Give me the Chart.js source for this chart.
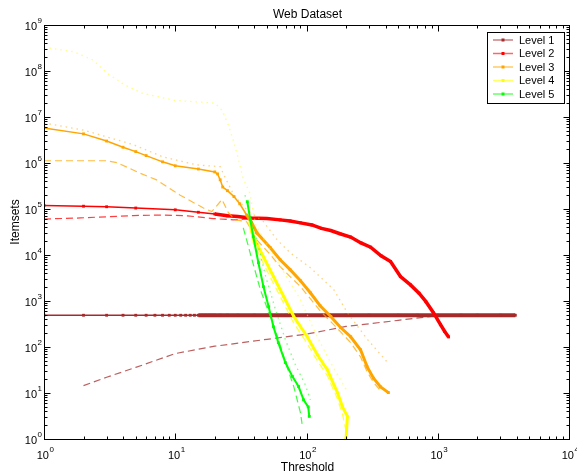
<!DOCTYPE html>
<html>
<head>
<meta charset="utf-8">
<script src="https://cdn.jsdelivr.net/npm/chart.js@4.4.1/dist/chart.umd.min.js"></script>
<style>
  html, body { margin: 0; padding: 0; background: #fff; }
  #wrap { width: 577px; height: 471px; position: relative; }
</style>
</head>
<body>
<div id="wrap"><canvas id="chart"></canvas></div>
<script>
// Web Dataset - itemsets per threshold, log-log, 5 levels
// solid = measured (with markers), dashed = lower bound, dotted = upper bound

const FONT = "'Liberation Sans', Arial, Helvetica, sans-serif";

const xTickExponents = [0, 1, 2, 3, 4];
const yTickExponents = [0, 1, 2, 3, 4, 5, 6, 7, 8, 9];

const levelNames = ["Level 1", "Level 2", "Level 3", "Level 4", "Level 5"];
const levelColors = ["165,42,42", "255,0,0", "255,165,0", "255,255,0", "0,255,0"];

// Level 1
const level1Threshold = [1, 2, 3, 4, 5, 6, 7, 8, 9, 10, 11, 12, 13, 14, 15, 16, 17, 18, 19, 20, 22, 25, 30, 40, 50, 70, 100, 150, 200, 300, 500, 700, 1000, 1500, 2000, 3000, 3900];
const level1Itemsets = [490, 490, 490, 490, 490, 490, 490, 490, 490, 490, 490, 490, 490, 490, 490, 490, 490, 490, 490, 490, 490, 490, 490, 490, 490, 490, 490, 490, 490, 490, 490, 490, 490, 490, 490, 490, 490];
const level1LowerThreshold = [2, 3, 5, 10, 20, 50, 100, 200, 500, 900, 1200];
const level1LowerItemsets = [14.5, 22, 36, 72, 104, 147, 190, 280, 380, 465, 490];

// Level 2
const level2Threshold = [1, 2, 3, 5, 10, 15, 20, 25, 30, 37, 50, 63, 75, 90, 110, 130, 153, 180, 217, 260, 308, 370, 437, 520, 620, 720, 810, 930, 1050, 1130, 1210];
const level2Itemsets = [119000, 115000, 112000, 105000, 96000, 85000, 78000, 71000, 69000, 64000, 62000, 58000, 55000, 50000, 45000, 38000, 34000, 29000, 24500, 18300, 14800, 9600, 7200, 3400, 2240, 1480, 980, 550, 305, 217, 165];
const level2LowerThreshold = [1, 1.9, 4.8, 8.1, 12.4, 19.5, 27.6, 38];
const level2LowerItemsets = [60500, 64000, 72000, 74000, 71000, 62000, 58000, 61000];

// Level 3
const level3Threshold = [1, 2, 3, 4, 5, 6, 8, 10, 15, 20, 21, 22, 23, 25, 28, 31, 35, 38, 42, 53, 63, 75, 90, 107, 127, 153, 182, 217, 258, 290, 324, 367, 421];
const level3Itemsets = [5.8e6, 4.3e6, 3.0e6, 2.2e6, 1.77e6, 1.45e6, 1.06e6, 8.7e5, 7.4e5, 6.4e5, 5.8e5, 4.3e5, 3.0e5, 2.5e5, 1.86e5, 1.3e5, 74000, 52000, 30000, 14400, 7900, 4800, 2750, 1510, 790, 460, 265, 167, 87, 37, 21, 13.6, 10.2];
const level3LowerThreshold = [1, 2, 3, 3.6, 5.4, 7.2, 10.9, 16.4, 19, 22.7, 25.4, 28.7, 35, 42, 53, 63, 75, 90, 107, 127, 153, 182, 217, 258, 290, 324, 367];
const level3LowerItemsets = [1.12e6, 1.12e6, 1.12e6, 1.02e6, 6.0e5, 4.3e5, 2.0e5, 1.05e5, 88000, 1.6e5, 83000, 58000, 53000, 21000, 10200, 5600, 3400, 2050, 1120, 610, 355, 214, 124, 61, 29, 17, 11.2];
const level3UpperThreshold = [1, 2, 4.8, 8.1, 14.6, 22, 24, 28, 35, 47, 60, 75, 107, 161, 205, 292, 415];
const level3UpperItemsets = [7.4e6, 5.2e6, 2.5e6, 1.35e6, 9.1e5, 8.3e5, 4.8e5, 2.0e5, 96000, 53000, 21000, 11200, 5300, 1780, 555, 145, 46];

// Level 4
const level4Threshold = [37, 39.3, 47, 56, 67, 80, 101, 121, 144, 172, 188, 205, 200];
const level4Itemsets = [50000, 25000, 9100, 3400, 1250, 460, 169, 68, 32, 10.2, 5.0, 3.1, 1];
const level4LowerThreshold = [37, 39.3, 47, 56, 67, 80, 101, 121, 144, 172, 188, 200];
const level4LowerItemsets = [40000, 18000, 6500, 2400, 900, 330, 120, 50, 24, 7.5, 3.5, 1.5];
const level4UpperThreshold = [1, 1.7, 2.35, 3.0, 4.1, 5.6, 7.6, 10, 15.6, 20, 22.7, 25.4, 27.6, 30, 32.6, 37, 41, 53, 69, 90, 117, 153, 200];
const level4UpperItemsets = [3.3e8, 2.6e8, 1.74e8, 9.1e7, 5.0e7, 3.3e7, 2.7e7, 2.3e7, 2.1e7, 2.0e7, 1.4e7, 6.7e6, 3.2e6, 1.35e6, 5.0e5, 2.2e5, 45000, 13000, 3700, 1070, 200, 45, 12];

// Level 5
const level5Threshold = [35.4, 37.3, 39.3, 43, 47, 51.5, 56, 61, 69, 78, 87, 95, 103, 105];
const level5Itemsets = [1.44e5, 59000, 25000, 6800, 2050, 750, 275, 124, 46, 23, 13.8, 7.1, 5.0, 3.1];
const level5LowerThreshold = [33, 39, 44.5, 53, 61, 71, 80, 90, 93];
const level5LowerItemsets = [39000, 6800, 1770, 460, 147, 37, 13.8, 3.7, 1.9];
const level5UpperThreshold = [34, 41, 48.5, 58, 69, 82, 98, 107];
const level5UpperItemsets = [2.0e5, 27000, 3700, 650, 145, 42, 15, 7.1];

const pts = (xs, ys) => xs.map((x, i) => ({ x: x, y: ys[i] }));

function solid(level, xs, ys, thickFrom, thickWidth) {
  const c = levelColors[level];
  return {
    label: levelNames[level],
    data: pts(xs, ys),
    borderColor: `rgb(${c})`,
    backgroundColor: `rgb(${c})`,
    borderWidth: 1.5,
    pointRadius: 2,
    pointStyle: "rect",
    pointBorderWidth: 0,
    order: 10 - level * 2,
    segment: {
      borderWidth: s => (s.p0.parsed.x >= thickFrom ? thickWidth : 1.5),
    },
  };
}

function bound(level, xs, ys, dotted) {
  const c = levelColors[level];
  return {
    label: levelNames[level] + (dotted ? " upper" : " lower"),
    data: pts(xs, ys),
    borderColor: `rgba(${c},${dotted ? 0.5 : 0.75})`,
    borderWidth: dotted ? 1.3 : 1.2,
    borderDash: dotted ? [1.5, 4] : [7, 4],
    pointRadius: 0,
    order: 11 - level * 2,
  };
}

const datasets = [
  solid(0, level1Threshold, level1Itemsets, 15, 4),
  bound(0, level1LowerThreshold, level1LowerItemsets, false),
  solid(1, level2Threshold, level2Itemsets, 20, 3.5),
  bound(1, level2LowerThreshold, level2LowerItemsets, false),
  solid(2, level3Threshold, level3Itemsets, 35, 3),
  bound(2, level3LowerThreshold, level3LowerItemsets, false),
  bound(2, level3UpperThreshold, level3UpperItemsets, true),
  solid(3, level4Threshold, level4Itemsets, 0, 3),
  bound(3, level4LowerThreshold, level4LowerItemsets, false),
  bound(3, level4UpperThreshold, level4UpperItemsets, true),
  solid(4, level5Threshold, level5Itemsets, 0, 2),
  bound(4, level5LowerThreshold, level5LowerItemsets, false),
  bound(4, level5UpperThreshold, level5UpperItemsets, true),
];

// matlab-like box, inward ticks, 10^n labels, titles and legend
const matlabAxes = {
  id: "matlabAxes",
  afterDraw(chart) {
    const { ctx, chartArea: a, scales } = chart;
    const xs = scales.x, ys = scales.y;
    const L = Math.round(a.left) + 0.5, R = Math.round(a.right) + 0.5;
    const T = Math.round(a.top) + 0.5, B = Math.round(a.bottom) + 0.5;
    ctx.save();
    ctx.strokeStyle = "#000";
    ctx.lineWidth = 1;
    ctx.strokeRect(L, T, R - L, B - T);

    ctx.beginPath();
    xTickExponents.forEach(e => {
      const px = Math.round(xs.getPixelForValue(10 ** e)) + 0.5;
      ctx.moveTo(px, B); ctx.lineTo(px, B - 6);
      ctx.moveTo(px, T); ctx.lineTo(px, T + 6);
      if (e < xTickExponents[xTickExponents.length - 1]) {
        for (let m = 2; m <= 9; m++) {
          const q = Math.round(xs.getPixelForValue(m * 10 ** e)) + 0.5;
          ctx.moveTo(q, B); ctx.lineTo(q, B - 3);
          ctx.moveTo(q, T); ctx.lineTo(q, T + 3);
        }
      }
    });
    yTickExponents.forEach(e => {
      const py = Math.round(ys.getPixelForValue(10 ** e)) + 0.5;
      ctx.moveTo(L, py); ctx.lineTo(L + 6, py);
      ctx.moveTo(R, py); ctx.lineTo(R - 6, py);
      if (e < yTickExponents[yTickExponents.length - 1]) {
        for (let m = 2; m <= 9; m++) {
          const q = Math.round(ys.getPixelForValue(m * 10 ** e)) + 0.5;
          ctx.moveTo(L, q); ctx.lineTo(L + 3, q);
          ctx.moveTo(R, q); ctx.lineTo(R - 3, q);
        }
      }
    });
    ctx.stroke();

    // tick labels
    ctx.fillStyle = "#000";
    ctx.textBaseline = "alphabetic";
    ctx.textAlign = "left";
    xTickExponents.forEach(e => {
      const px = xs.getPixelForValue(10 ** e);
      ctx.font = `11px ${FONT}`;
      const w10 = ctx.measureText("10").width;
      ctx.font = `8px ${FONT}`;
      const we = ctx.measureText(String(e)).width;
      const x0 = px - (w10 + we) / 2 + 1;
      ctx.font = `11px ${FONT}`;
      ctx.fillText("10", x0, 459);
      ctx.font = `8px ${FONT}`;
      ctx.fillText(String(e), x0 + w10 + 0.5, 452);
    });
    yTickExponents.forEach(e => {
      const py = ys.getPixelForValue(10 ** e);
      ctx.font = `8px ${FONT}`;
      const we = ctx.measureText(String(e)).width;
      ctx.fillText(String(e), 42 - we, py - 2);
      ctx.font = `11px ${FONT}`;
      const w10 = ctx.measureText("10").width;
      ctx.fillText("10", 42 - we - 0.5 - w10, py + 4.5);
    });

    // titles
    const cx = (a.left + a.right) / 2;
    ctx.font = `12px ${FONT}`;
    ctx.textAlign = "center";
    ctx.fillText("Web Dataset", cx + 1, 17.5);
    ctx.fillText("Threshold", cx + 1, 471);
    ctx.save();
    ctx.translate(18.5, 222);
    ctx.rotate(-Math.PI / 2);
    ctx.fillText("Itemsets", 0, 0);
    ctx.restore();

    // legend
    const lx = 487.5, ly = 32.5, lw = 77, lh = 71;
    ctx.fillStyle = "#fff";
    ctx.fillRect(lx, ly, lw, lh);
    ctx.strokeStyle = "#000";
    ctx.lineWidth = 1;
    ctx.strokeRect(lx, ly, lw, lh);
    ctx.font = `11px ${FONT}`;
    ctx.textAlign = "left";
    ctx.textBaseline = "middle";
    levelNames.forEach((name, i) => {
      const yy = 40 + i * 13.5;
      const c = levelColors[i];
      ctx.strokeStyle = `rgba(${c},0.6)`;
      ctx.lineWidth = 1.5;
      ctx.beginPath();
      ctx.moveTo(493, yy); ctx.lineTo(513, yy);
      ctx.stroke();
      ctx.fillStyle = `rgb(${c})`;
      ctx.fillRect(501.5, yy - 1.5, 3, 3);
      ctx.fillStyle = "#000";
      ctx.fillText(name, 519, yy + 0.5);
    });
    ctx.restore();
  },
};

new Chart(document.getElementById("chart"), {
  type: "line",
  data: { datasets },
  options: {
    responsive: true,
    maintainAspectRatio: false,
    animation: false,
    devicePixelRatio: 1,
    layout: { padding: { top: 25, right: 8, left: 0, bottom: 0 } },
    plugins: { legend: { display: false }, tooltip: { enabled: false } },
    elements: { line: { tension: 0 } },
    scales: {
      x: {
        type: "logarithmic",
        min: 1,
        max: 10000,
        grid: { display: false, drawTicks: false },
        border: { display: false },
        ticks: { display: false },
        afterFit: s => { s.height = 32; },
      },
      y: {
        type: "logarithmic",
        min: 1,
        max: 1e9,
        grid: { display: false, drawTicks: false },
        border: { display: false },
        ticks: { display: false },
        afterFit: s => { s.width = 44; },
      },
    },
  },
  plugins: [matlabAxes],
});
</script>
</body>
</html>
